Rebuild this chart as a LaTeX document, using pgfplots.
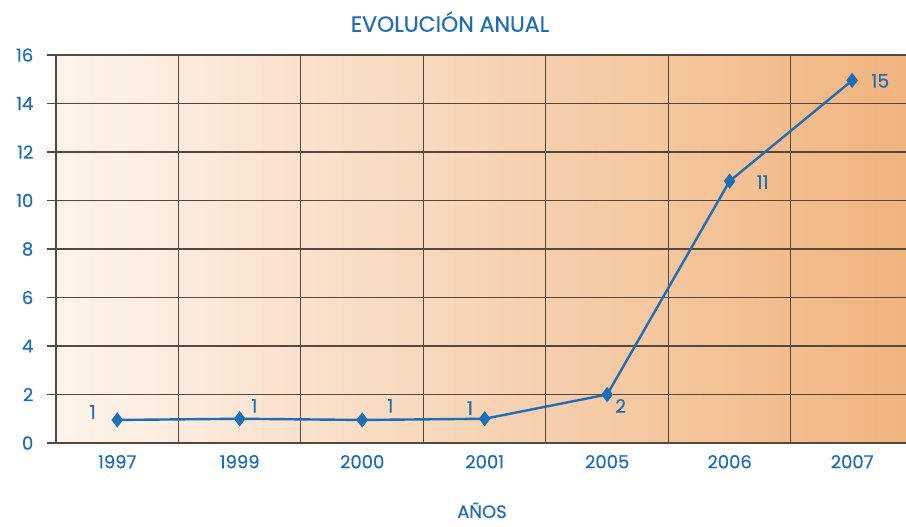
\documentclass[border=0pt]{standalone}
\usepackage{pgfplots}
\pgfplotsset{compat=1.18}
\usepackage{fontspec}
\setmainfont{Poppins}[FakeBold=0.4]
\definecolor{cblue}{RGB}{30,110,182}
\definecolor{gridc}{RGB}{85,72,62}
\definecolor{bgL}{RGB}{253,244,236}
\definecolor{bgR}{RGB}{240,180,126}
\begin{document}
\begin{tikzpicture}
\useasboundingbox (-42pt,-62.25pt) rectangle (637.5pt,332.25pt);
\begin{axis}[
  at={(0,0)}, anchor=south west,
  scale only axis, width=637.5pt, height=291pt,
  xmin=-0.5, xmax=6.44, ymin=0, ymax=16,
  axis background/.style={left color=bgL, right color=bgR},
  axis x line*=bottom, axis y line*=left,
  axis line style={gridc, line width=0.9pt, -},
  xtick={0,...,6},
  xticklabels={1997,1999,2000,2001,2005,2006,2007},
  major x tick style={draw=none},
  extra x ticks={-0.5,0.5,1.5,2.5,3.5,4.5,5.5},
  extra x tick labels={},
  extra x tick style={xmajorgrids=true, tick align=outside, major tick length=6pt, tick style={gridc, line width=0.9pt}},
  ytick={0,2,...,16},
  ymajorgrids,
  y tick style={gridc, line width=0.9pt},
  tick align=outside, major tick length=6.5pt,
  grid style={gridc, line width=0.8pt},
  ticklabel style={font=\fontsize{13.5}{15}\selectfont, text=cblue},
  /pgf/number format/assume math mode=true,
  yticklabel style={xshift=-7pt},
  xticklabel style={yshift=1pt},
  clip=false,
]
\addplot[cblue, line width=1.8pt, mark=diamond*, mark size=4.3pt, mark options={solid}] coordinates {
 (0,0.95) (1,1.0) (2,0.95) (3,1.0) (4,2.0) (5,10.8) (6,14.95)
};
\begin{scope}[every node/.style={text=cblue, font=\fontsize{14}{16}\selectfont}]
\node at (axis cs:-0.20,1.28) {1};
\node at (axis cs:1.12,1.53) {1};
\node at (axis cs:2.23,1.53) {1};
\node at (axis cs:2.88,1.44) {1};
\node at (axis cs:4.11,1.53) {2};
\node at (axis cs:5.27,10.76) {11};
\node at (axis cs:6.23,14.93) {15};
\end{scope}
\end{axis}
\node[text=cblue, font=\fontsize{16.5}{18}\selectfont] at (295.5pt,316pt) {EVOLUCIÓN ANUAL};
\node[text=cblue, font=\fontsize{13.5}{15}\selectfont] at (319.5pt,-50.5pt) {AÑOS};
\end{tikzpicture}
\end{document}
